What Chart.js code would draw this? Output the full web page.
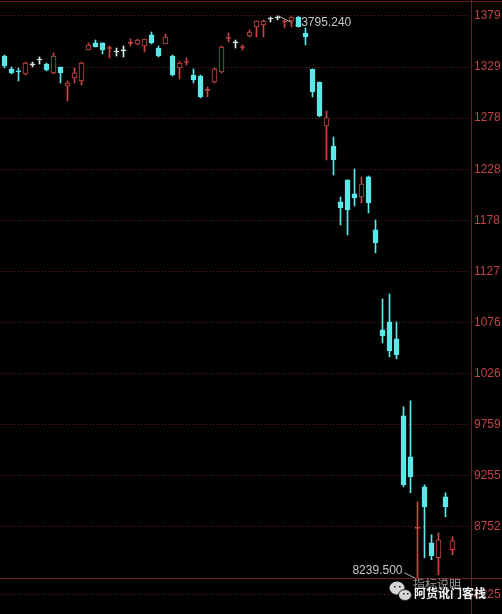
<!DOCTYPE html>
<html>
<head>
<meta charset="utf-8">
<script src="https://cdn.jsdelivr.net/npm/chart.js@4.4.0/dist/chart.umd.min.js"></script>
<style>
  html, body { margin: 0; padding: 0; background: #000; overflow: hidden; }
  #wrap { width: 502px; height: 614px; position: relative; }
</style>
</head>
<body>
<div id="wrap"><canvas id="kline"></canvas></div>
<script>
// velas diarias (apertura, maximo, minimo, cierre)
const opens = [13400, 13272, 13252, 13223, 13312, 13361, 13321, 13233, 13292, 13105,
               13183, 13154, 13460, 13529, 13529, 13474, 13440, 13450, 13524, 13519,
               13499, 13608, 13479, 13519, 13400, 13282, 13336, 13213, 13203, 13060,
               13144, 13243, 13573, 13529, 13484, 13598, 13686, 13706, 13765, 13775,
               13736, 13746, 13785, 13627, 13272, 13144, 12710, 12512, 11960, 12177,
               12039, 12009, 12207, 11684, 10697, 10776, 10608, 9849, 9444, 8738,
               9148, 8596, 8448, 9050, 8527]
const highs = [13410, 13292, 13282, 13341, 13341, 13391, 13331, 13430, 13292, 13154,
               13282, 13341, 13529, 13558, 13529, 13499, 13479, 13499, 13568, 13568,
               13568, 13637, 13499, 13617, 13410, 13346, 13381, 13272, 13213, 13095,
               13282, 13499, 13627, 13558, 13509, 13657, 13746, 13756, 13785, 13795.24,
               13756, 13790, 13790, 13677, 13272, 13144, 12858, 12601, 12009, 12177,
               12285, 12207, 12216, 11782, 11003, 11052, 10776, 9938, 9997, 9000,
               9168, 8675, 8694, 9089, 8655]
const lows = [13282, 13223, 13154, 13213, 13292, 13321, 13252, 13223, 13134, 12956,
              13134, 13114, 13460, 13489, 13420, 13381, 13400, 13391, 13499, 13509,
              13440, 13519, 13391, 13519, 13203, 13174, 13312, 13134, 12986, 12996,
              13134, 13233, 13539, 13479, 13460, 13588, 13588, 13588, 13736, 13756,
              13677, 13686, 13686, 13509, 12996, 12799, 12374, 12226, 11733, 11634,
              11920, 11950, 11851, 11457, 10569, 10431, 10411, 9148, 9089, 8239.5,
              8448, 8428, 8280, 8852, 8477]
const closes = [13302, 13233, 13243, 13331, 13312, 13361, 13262, 13400, 13233, 13134,
                13233, 13331, 13509, 13489, 13460, 13484, 13440, 13450, 13534, 13558,
                13568, 13529, 13400, 13588, 13213, 13331, 13346, 13164, 12996, 13070,
                13272, 13489, 13583, 13529, 13494, 13637, 13746, 13746, 13765, 13775,
                13746, 13785, 13686, 13588, 13045, 12808, 12789, 12374, 11901, 11881,
                11999, 12137, 11950, 11555, 10638, 10490, 10450, 9168, 9247, 8748,
                8951, 8468, 8625, 8951, 8615]

// eje derecho (texto recortado como en la captura)
const yTickValues = [13795, 13291, 12787, 12283, 11779, 11275, 10770, 10266, 9759, 9255, 8752, 8081]
const yTickLabels = ['1379', '1329', '1278', '1228', '1178', '1127', '1076', '1026', '9759', '9255', '8752', '8225']
const paneSplit = 8245
const maxText = '13795.240'
const minText = '8239.500'
const noteText = '指标说明'
const watermark = '阿货讹门客栈'

const RED = '#cc4646'
const CYAN = '#5ce8e8'
const WHITE = '#dcecec'

function candleColor(i) {
    if (i === undefined) return CYAN
    if (closes[i] > opens[i]) return RED
    if (closes[i] < opens[i]) return CYAN
    return WHITE
}

const idx = opens.map((o, i) => i)
const bodies = idx.map(i => ({x: i, y: [opens[i], closes[i]]}))
const wicks = idx.map(i => ({x: i, y: [lows[i], highs[i]]}))

const decor = {
    id: 'decor',
    beforeDraw(chart) {
        const c = chart.ctx
        c.save()
        c.fillStyle = '#000'
        c.fillRect(0, 0, chart.width, chart.height)
        c.restore()
    },
    beforeDatasetsDraw(chart) {
        const c = chart.ctx
        const xs = chart.scales.x, ys = chart.scales.y
        c.save()
        c.font = '12px "Liberation Sans", Arial, sans-serif'
        c.fillStyle = '#c8c8c8'
        c.strokeStyle = '#b4b4b4'
        c.lineWidth = 1
        c.textBaseline = 'middle'

        // maximo
        const hi = highs.indexOf(Math.max(...highs))
        let px = xs.getPixelForValue(hi), py = ys.getPixelForValue(highs[hi])
        c.beginPath()
        c.moveTo(px + 1, py)
        c.lineTo(px + 15, py + 7)
        c.stroke()
        c.textAlign = 'left'
        c.fillText(maxText, px + 17, py + 7)

        // minimo
        const lo = lows.indexOf(Math.min(...lows))
        px = xs.getPixelForValue(lo); py = ys.getPixelForValue(lows[lo])
        c.beginPath()
        c.moveTo(px - 1, py)
        c.lineTo(px - 13, py - 6)
        c.stroke()
        c.textAlign = 'right'
        c.fillText(minText, px - 15, py - 8)
        c.restore()
    },
    afterDraw(chart) {
        const c = chart.ctx
        const ys = chart.scales.y
        const area = chart.chartArea
        c.save()
        c.strokeStyle = '#701c1c'
        c.lineWidth = 1
        c.beginPath()
        c.moveTo(0, 1.5)
        c.lineTo(chart.width, 1.5)
        const sy = Math.round(ys.getPixelForValue(paneSplit)) + 0.5
        c.moveTo(0, sy)
        c.lineTo(chart.width, sy)
        c.moveTo(area.right + 0.5, 0)
        c.lineTo(area.right + 0.5, chart.height)
        c.stroke()

        c.font = '12px "Noto Sans CJK SC", sans-serif'
        c.fillStyle = '#9a9a9a'
        c.textBaseline = 'middle'
        c.fillText(noteText, 413, 584)

        // logo + marca de agua
        c.fillStyle = '#d6d6d6'
        c.beginPath()
        c.ellipse(397, 588, 7.5, 6.5, 0, 0, Math.PI * 2)
        c.fill()
        c.strokeStyle = '#202020'
        c.beginPath()
        c.ellipse(405, 595, 6.5, 5.5, 0, 0, Math.PI * 2)
        c.fill()
        c.stroke()
        c.fillStyle = '#202020'
        c.fillRect(394, 586, 1.5, 1.5)
        c.fillRect(399, 586, 1.5, 1.5)
        c.fillRect(403, 593, 1.5, 1.5)
        c.fillRect(407, 593, 1.5, 1.5)

        c.font = 'bold 12px "Noto Sans CJK SC", sans-serif'
        c.shadowColor = 'rgba(0,0,0,0.9)'
        c.shadowBlur = 3
        c.fillStyle = '#f4f4f4'
        c.textAlign = 'left'
        c.fillText(watermark, 414, 593)
        c.restore()
    }
}

var ctx = document.getElementById('kline')
var myChart = new Chart(ctx, {
    type: 'bar',
    data: {
        datasets: [
        {
            label: 'cuerpo',
            data: bodies,
            barThickness: 5,
            grouped: false,
            minBarLength: 1,
            borderSkipped: false,
            borderWidth: 1,
            borderColor: c => candleColor(c.dataIndex),
            backgroundColor: c => {
                const i = c.dataIndex
                if (i !== undefined && closes[i] - opens[i] > 25) return '#000'
                return candleColor(i)
            }
        },
        {
            label: 'mecha',
            data: wicks,
            barThickness: 1,
            grouped: false,
            borderWidth: 0,
            backgroundColor: c => candleColor(c.dataIndex)
        }
    ]
    },
    options: {
        responsive: true,
        maintainAspectRatio: false,
        animation: false,
        devicePixelRatio: 1,
        layout: { padding: { top: 1, left: 0, right: 0, bottom: 0 } },
        plugins: {
            legend: { display: false },
            tooltip: { enabled: false }
        },
        scales: {
            x: {
                type: 'linear',
                display: false,
                offset: false,
                grid: { offset: false },
                min: -4.5 / 7,
                max: -4.5 / 7 + 471 / 7
            },
            y: {
                position: 'right',
                min: 7893,
                max: 13943,
                afterBuildTicks: s => { s.ticks = yTickValues.map(v => ({value: v})) },
                afterFit: s => { s.width = 31; s.paddingTop = 0; s.paddingBottom = 0 },
                grid: { color: '#6a1c1c', drawTicks: false, lineWidth: 1 },
                border: { display: true, color: '#701c1c', dash: [1, 2] },
                ticks: {
                    padding: 3,
                    color: '#c04242',
                    font: { family: '"Liberation Sans", Arial, sans-serif', size: 12 },
                    callback: (v, i) => yTickLabels[i]
                }
            }
        }
    },
    plugins: [decor]
})
</script>
</body>
</html>
